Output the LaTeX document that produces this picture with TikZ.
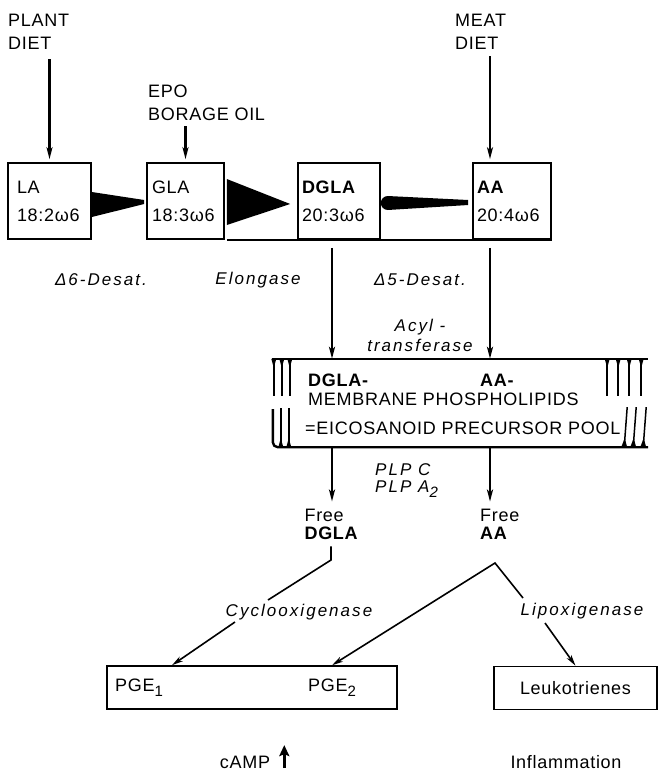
\documentclass[tikz,border=0pt]{standalone}
\usepackage{fontspec}
\setmainfont{Liberation Sans}[LetterSpace=4]
\newfontfamily\enzfont{Liberation Sans}[LetterSpace=12]
\usetikzlibrary{positioning,arrows.meta,calc}
\newcommand\lowsub[1]{\raisebox{-5pt}{\fontsize{15}{15}\selectfont #1}}

\begin{document}
\begin{tikzpicture}[
  x=1pt, y=-1pt,
  font=\fontsize{18}{23}\selectfont,
  >={Stealth[length=12pt,width=6pt,inset=3pt]},
  fabox/.style={draw, line width=1.6pt, minimum height=76pt, align=left, inner sep=0pt, font=\fontsize{18}{28}\selectfont},
  txt/.style={inner sep=1pt, align=left},
  pair/.style={inner sep=1pt, align=left, font=\fontsize{18}{18}\selectfont},
  enz/.style={inner sep=1pt, align=center, font=\fontsize{17}{20}\enzfont\itshape},
  flow/.style={->, line width=2.2pt},
  route/.style={line width=1.6pt},
  rarrow/.style={->, line width=1.6pt, >={Stealth[length=11pt,width=5.5pt,inset=3pt]}},
  memline/.style={line width=2.4pt},
  lipid/.style={line width=1.5pt},
  outbox/.style={draw, line width=1.6pt, minimum height=43pt, inner sep=0pt}
  ]
  \useasboundingbox (0,0) rectangle (660,772);

  % diets and fatty acids
  \node[txt, anchor=west] (plant) at (7,31.5) {PLANT\\DIET};
  \node[txt, anchor=west] (epo) at (147,103) {EPO\\BORAGE OIL};
  \node[txt, anchor=west] (meat) at (454,31.5) {MEAT\\DIET};
  \coordinate (dcol) at (332,0);
  \coordinate (acol) at (490,0);

  \node[fabox, minimum width=83pt, text width=65pt] (la)   at (49.5,201) {LA\\18:2ω6};
  \node[fabox, minimum width=77pt, text width=67pt] (gla)  at (185.5,201) {GLA\\18:3ω6};
  \node[fabox, minimum width=82pt, text width=74pt] (dgla) at (339,201) {\textbf{DGLA}\\20:3ω6};
  \node[fabox, minimum width=78pt, text width=70pt] (aa)   at (512,201) {\textbf{AA}\\20:4ω6};

  \draw[flow, shorten >=3pt] ($(plant.south -| la)+(0,9)$) -- (la.north);
  \draw[flow, shorten >=3pt] ($(epo.south -| gla)+(0,4)$) -- (gla.north);
  \draw[flow, shorten >=3pt] ($(meat.south -| acol)+(0,6)$) -- (aa.north -| acol);

  % enzyme steps
  \fill ($(la.east)+(0,-9)$) -- ($(gla.west)+(-2,-1)$) -- ($(gla.west)+(-2,3)$) -- ($(la.east)+(0,16)$) -- cycle;
  \fill ($(gla.east)+(2,-22)$) -- ($(dgla.west)+(-7,3)$) -- ($(gla.east)+(2,24)$) -- cycle;
  \fill ($(dgla.east)+(7,-5)$) -- ($(aa.west)+(-4,-1)$) -- ($(aa.west)+(-4,4)$) -- ($(dgla.east)+(7,9)$)
    arc[start angle=270, end angle=90, radius=7pt] -- cycle;
  \draw[route] ($(gla.south east)+(2,0)$) -- (aa.south east);

  \node[enz] (d6)  at (101,280) {Δ6-Desat.};
  \node[enz] (elo) at (258,280) {Elongase};
  \node[enz] (d5)  at (420,280) {Δ5-Desat.};

  % membrane pool
  \node[minimum width=376pt, minimum height=88pt, inner sep=0pt] (mem) at (460,403) {};
  \draw[flow] ($(dgla.south -| dcol)+(0,8)$) -- (mem.north -| dcol);
  \draw[flow] ($(aa.south -| acol)+(0,8)$) -- (mem.north -| acol);
  \node[enz] (acyl) at (420,335) {Acyl -\\transferase};

  \draw[memline] (mem.north west) -- (mem.north east);
  \draw[memline, rounded corners=5pt] ($(mem.south west)+(1,-38)$) -- ($(mem.south west)+(1,0)$) -- (mem.south east);
  \foreach \t in {2,10,18} {
    \draw[lipid] ($(mem.north west)+(\t,0)$) -- ++(0,37);
    \fill ($(mem.north west)+(\t-2.5,0)$) -- ++(5,0) -- ++(-2.5,9) -- cycle;
  }
  \foreach \t in {-41,-30,-19,-7} {
    \draw[lipid] ($(mem.north east)+(\t,0)$) -- ++(0,37);
    \fill ($(mem.north east)+(\t-2.5,0)$) -- ++(5,0) -- ++(-2.5,9) -- cycle;
  }
  \foreach \t in {9,17} {
    \draw[lipid] ($(mem.south west)+(\t,0)$) -- ++(0,-39);
    \fill ($(mem.south west)+(\t-2.5,0)$) -- ++(5,0) -- ++(-2.5,-9) -- cycle;
  }
  \foreach \t in {-24,-15,-5} {
    \draw[lipid] ($(mem.south east)+(\t,0)$) -- ++(3,-40);
    \fill ($(mem.south east)+(\t-3,0)$) -- ++(6,0) -- ++(-2.5,-9) -- cycle;
  }

  \node[txt, anchor=west] (dglapl) at (307,380) {\textbf{DGLA-}};
  \node[txt, anchor=west] (aapl)   at (479,380) {\textbf{AA-}};
  \node[txt, anchor=west] (phos)   at (307,399) {MEMBRANE PHOSPHOLIPIDS};
  \node[txt, anchor=west] (pool)   at (304,428) {=EICOSANOID PRECURSOR POOL};

  % release
  \node[pair] (fdgla) at (331.5,524) {Free\\\textbf{DGLA}};
  \node[pair, anchor=west] (faa) at (479,524) {Free\\\textbf{AA}};
  \draw[flow, shorten >=6pt] (mem.south -| dcol) -- (fdgla.north -| dcol);
  \draw[flow, shorten >=6pt] (mem.south -| acol) -- (faa.north -| acol);
  \node[enz, anchor=west, align=left, font=\fontsize{17}{17}\enzfont\itshape] (plp) at (374,481) {PLP C\\PLP A\lowsub{2}};

  % products
  \node[outbox, minimum width=290pt] (pge) at (252,687.5) {};
  \node[txt, anchor=west] (pgeone) at (114,688) {PGE\lowsub{1}};
  \node[txt, anchor=west] (pgetwo) at (307,688) {PGE\lowsub{2}};
  \node[outbox, minimum width=163pt] (leuko) at (575.5,688) {Leukotrienes};

  \coordinate (dbend) at (331,560);
  \coordinate (dstop) at (268,600);
  \coordinate (cstart) at (235,622);
  \coordinate (pgein) at (172,0);
  \coordinate (apex) at (495,563);
  \coordinate (lstop) at (523,598);
  \coordinate (lstart) at (545,623);

  \node[enz] (cox) at (299,612) {Cyclooxigenase};
  \node[enz] (lox) at (582,611) {Lipoxigenase};

  \draw[route] ($(fdgla.south -| dbend)+(0,6)$) -- (dbend) -- (dstop);
  \draw[rarrow] (cstart) -- (pge.north -| pgein);
  \draw[rarrow] (lstop) -- (apex) -- (pge.north -| pgetwo);
  \draw[rarrow] (lstart) -- (leuko.north);

  % effects
  \node[txt] (camp) at (245,762) {cAMP};
  \draw[->, line width=3pt, >={Stealth[length=11pt,width=10pt,inset=2pt]}] ($(camp.base east)+(13,0)$) -- ++(0,-23);
  \node[txt] (infl) at (566,762) {Inflammation};
\end{tikzpicture}
\end{document}
